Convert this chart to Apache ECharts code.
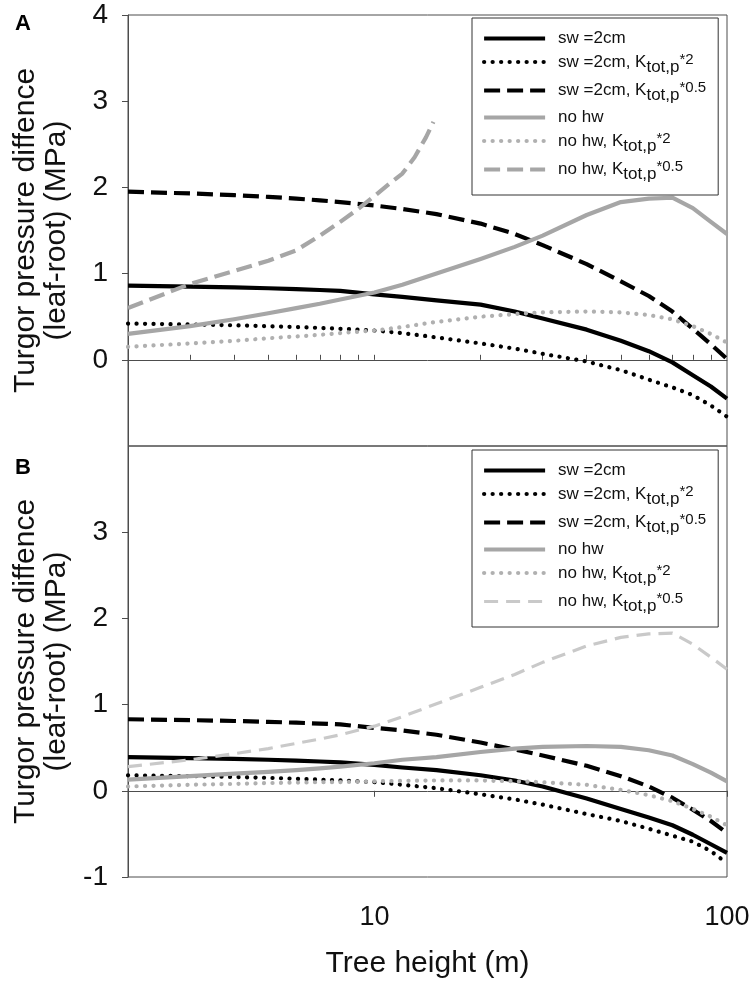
<!DOCTYPE html>
<html>
<head>
<meta charset="utf-8">
<script src="https://cdn.jsdelivr.net/npm/echarts@6/dist/echarts.min.js"></script>
<style>
html,body{margin:0;padding:0;background:#fff;}
#chart{width:756px;height:986px;}
</style>
</head>
<body>
<div id="chart"></div>
<script>
// ---- data (tree height in m, turgor pressure difference in MPa) ----
const heights = [2,3,4,5,6,7,8,10,12,15,20,25,30,40,50,60,70,80,90,100];
const heightsNoHwHalfA = [2,3,4,5,6,7,8,9,10,11,12,13,14,14.7];

// Panel A
const swA       = [0.86,0.85,0.84,0.83,0.82,0.81,0.80,0.76,0.73,0.69,0.64,0.56,0.48,0.35,0.22,0.10,-0.03,-0.18,-0.31,-0.45];
const swK2A     = [0.42,0.41,0.40,0.39,0.38,0.37,0.36,0.34,0.31,0.26,0.19,0.13,0.07,-0.02,-0.12,-0.23,-0.32,-0.41,-0.53,-0.66];
const swK05A    = [1.95,1.93,1.91,1.89,1.87,1.85,1.83,1.79,1.75,1.69,1.58,1.46,1.33,1.11,0.91,0.74,0.56,0.36,0.18,0.01];
const noHwA     = [0.30,0.39,0.47,0.54,0.60,0.65,0.70,0.78,0.87,1.00,1.17,1.31,1.44,1.68,1.83,1.87,1.88,1.76,1.60,1.46];
const noHwK2A   = [0.15,0.19,0.22,0.25,0.27,0.29,0.31,0.34,0.38,0.44,0.50,0.53,0.55,0.56,0.55,0.52,0.47,0.39,0.30,0.20];
const noHwK05A  = [0.60,0.88,1.03,1.15,1.27,1.44,1.60,1.75,1.90,2.04,2.16,2.35,2.58,2.76];

// Panel B
const swB       = [0.39,0.38,0.37,0.36,0.35,0.34,0.33,0.30,0.27,0.24,0.18,0.12,0.05,-0.09,-0.21,-0.31,-0.40,-0.51,-0.62,-0.72];
const swK2B     = [0.18,0.17,0.16,0.15,0.14,0.13,0.12,0.10,0.07,0.03,-0.04,-0.10,-0.16,-0.27,-0.35,-0.44,-0.52,-0.59,-0.70,-0.84];
const swK05B    = [0.83,0.82,0.81,0.80,0.79,0.78,0.77,0.73,0.70,0.65,0.56,0.48,0.41,0.29,0.17,0.05,-0.08,-0.22,-0.35,-0.49];
const noHwB     = [0.13,0.17,0.20,0.22,0.24,0.26,0.28,0.32,0.36,0.39,0.45,0.49,0.51,0.52,0.51,0.47,0.41,0.31,0.21,0.11];
const noHwK2B   = [0.05,0.07,0.08,0.09,0.095,0.10,0.10,0.11,0.115,0.12,0.12,0.11,0.10,0.07,0.01,-0.05,-0.12,-0.21,-0.30,-0.40];
const noHwK05B  = [0.28,0.36,0.43,0.49,0.55,0.60,0.65,0.75,0.86,1.01,1.20,1.35,1.49,1.68,1.78,1.82,1.83,1.70,1.55,1.41];

// axis ticks / labels
const yTicksA = [0,1,2,3,4];
const yTicksB = [-1,0,1,2,3];
const xMinorTicksA = [3,4,5,6,7,8,9,10,20,30,40,50,60,70,80,90];
const xTicksB = [10,100];

const legendLabels = {
  sw: '{t|sw =2cm}',
  swK2: '{t|sw =2cm, K}{sub|tot,p}{sup|*2}',
  swK05: '{t|sw =2cm, K}{sub|tot,p}{sup|*0.5}',
  noHw: '{t|no hw}',
  noHwK2: '{t|no hw, K}{sub|tot,p}{sup|*2}',
  noHwK05: '{t|no hw, K}{sub|tot,p}{sup|*0.5}'
};

const FONT = '"Liberation Sans", Arial, Helvetica, sans-serif';
const AXIS_COLOR = '#4d4d4d';

function pairs(xs, ys){ return xs.map((x,i)=>[x, ys[i]]); }

const dot = [0.1, 8.4];
const dash = [16, 7];

function mk(name, panel, xs, ys, color, width, type, cap){
  return {
    name: panel + ':' + name,
    type: 'line',
    xAxisIndex: panel === 'A' ? 0 : 1,
    yAxisIndex: panel === 'A' ? 0 : 1,
    data: pairs(xs, ys),
    symbol: 'none',
    smooth: false,
    silent: true,
    lineStyle: {color: color, width: width, type: type, cap: cap || 'butt', join: 'round'},
    itemStyle: {color: color, opacity: 0},
    z: 3
  };
}

const BLACK = '#000000';
const GRAY = '#a6a6a6';
const GRAYDOT = '#b0b0b0';
const LIGHT = '#c9c9c9';

const series = [
  mk('sw','A',heights,swA,BLACK,4.2,'solid'),
  mk('swK2','A',heights,swK2A,BLACK,4.2,dot,'round'),
  mk('swK05','A',heights,swK05A,BLACK,4.2,dash),
  mk('noHw','A',heights,noHwA,GRAY,4.2,'solid'),
  mk('noHwK2','A',heights,noHwK2A,GRAYDOT,4.2,dot,'round'),
  mk('noHwK05','A',heightsNoHwHalfA,noHwK05A,GRAY,4.2,dash),
  mk('sw','B',heights,swB,BLACK,4.2,'solid'),
  mk('swK2','B',heights,swK2B,BLACK,4.2,dot,'round'),
  mk('swK05','B',heights,swK05B,BLACK,4.2,dash),
  mk('noHw','B',heights,noHwB,GRAY,4.2,'solid'),
  mk('noHwK2','B',heights,noHwK2B,GRAYDOT,4.2,dot,'round'),
  mk('noHwK05','B',heights,noHwK05B,LIGHT,3.2,[14,8])
];

const keys = ['sw','swK2','swK05','noHw','noHwK2','noHwK05'];
const richStyles = {
  t: {fontSize: 17, fontFamily: FONT, color: '#111', lineHeight: 18},
  sub: {fontSize: 17, fontFamily: FONT, color: '#111', padding: [10,0,0,0]},
  sup: {fontSize: 15, fontFamily: FONT, color: '#111', padding: [0,0,5,0]}
};

function legendFor(panel, top){
  return {
    orient: 'vertical',
    left: 472,
    top: top,
    padding: [12, 12, 12, 10],
    itemGap: 5,
    itemWidth: 61,
    itemHeight: 14,
    borderColor: '#333',
    borderWidth: 1,
    borderRadius: 0,
    backgroundColor: '#fff',
    selectedMode: false,
    itemStyle: {opacity: 0},
    data: keys.map(k => {
      const s = series.find(se => se.name === panel + ':' + k);
      return {name: s.name, lineStyle: {width: s.lineStyle.width, color: s.lineStyle.color, type: s.lineStyle.type, cap: s.lineStyle.cap}};
    }),
    formatter: function(name){ return legendLabels[name.split(':')[1]]; },
    textStyle: {fontFamily: FONT, fontSize: 17, color: '#111', padding: [0,0,0,8], rich: richStyles}
  };
}

const option = {
  animation: false,
  backgroundColor: '#fff',
  title: [
    {text: 'A', left: 10, top: 8, textStyle: {fontFamily: FONT, fontSize: 22, fontWeight: 'bold', color: '#000'}},
    {text: 'B', left: 10, top: 452, textStyle: {fontFamily: FONT, fontSize: 22, fontWeight: 'bold', color: '#000'}}
  ],
  grid: [
    {left: 128, top: 15, width: 599, height: 431, show: true, borderColor: AXIS_COLOR, borderWidth: 1, containLabel: false},
    {left: 128, top: 446, width: 599, height: 431, show: true, borderColor: AXIS_COLOR, borderWidth: 1, containLabel: false}
  ],
  legend: [legendFor('A', 18), legendFor('B', 450)],
  xAxis: [
    {
      type: 'log', logBase: 10, gridIndex: 0, min: 2, max: 100,
      axisLine: {show: true, lineStyle: {color: AXIS_COLOR, width: 1}},
      axisTick: {show: true, inside: true, length: 5, customValues: xMinorTicksA, lineStyle: {color: AXIS_COLOR}},
      axisLabel: {show: false},
      splitLine: {show: false},
      minorTick: {show: false}
    },
    {
      type: 'log', logBase: 10, gridIndex: 1, min: 2, max: 100,
      name: 'Tree height (m)', nameLocation: 'middle', nameGap: 72,
      nameTextStyle: {fontFamily: FONT, fontSize: 30, color: '#111'},
      axisLine: {show: true, lineStyle: {color: AXIS_COLOR, width: 1}},
      axisTick: {show: true, inside: false, length: 6, customValues: xTicksB, lineStyle: {color: AXIS_COLOR}},
      axisLabel: {show: true, customValues: xTicksB, margin: 27, fontFamily: FONT, fontSize: 27, color: '#111'},
      splitLine: {show: false}
    }
  ],
  yAxis: [
    {
      type: 'value', gridIndex: 0, min: -1, max: 4, interval: 1,
      name: 'Turgor pressure diffence\n(leaf-root) (MPa)', nameLocation: 'middle', nameRotate: 90, nameGap: 56,
      nameTextStyle: {fontFamily: FONT, fontSize: 30, color: '#111', lineHeight: 31, align: 'center'},
      axisLine: {show: true, lineStyle: {color: AXIS_COLOR, width: 1}},
      axisTick: {show: true, inside: false, length: 6, customValues: yTicksA, lineStyle: {color: AXIS_COLOR}},
      axisLabel: {show: true, customValues: yTicksA, margin: 20, fontFamily: FONT, fontSize: 28, color: '#111'},
      splitLine: {show: false}
    },
    {
      type: 'value', gridIndex: 1, min: -1, max: 4, interval: 1,
      name: 'Turgor pressure diffence\n(leaf-root) (MPa)', nameLocation: 'middle', nameRotate: 90, nameGap: 56,
      nameTextStyle: {fontFamily: FONT, fontSize: 30, color: '#111', lineHeight: 31, align: 'center'},
      axisLine: {show: true, lineStyle: {color: AXIS_COLOR, width: 1}},
      axisTick: {show: true, inside: false, length: 6, customValues: yTicksB, lineStyle: {color: AXIS_COLOR}},
      axisLabel: {show: true, customValues: yTicksB, margin: 20, fontFamily: FONT, fontSize: 28, color: '#111'},
      splitLine: {show: false}
    }
  ],
  series: series
};

const chart = echarts.init(document.getElementById('chart'), null, {renderer: 'canvas'});
chart.setOption(option);
</script>
</body>
</html>
